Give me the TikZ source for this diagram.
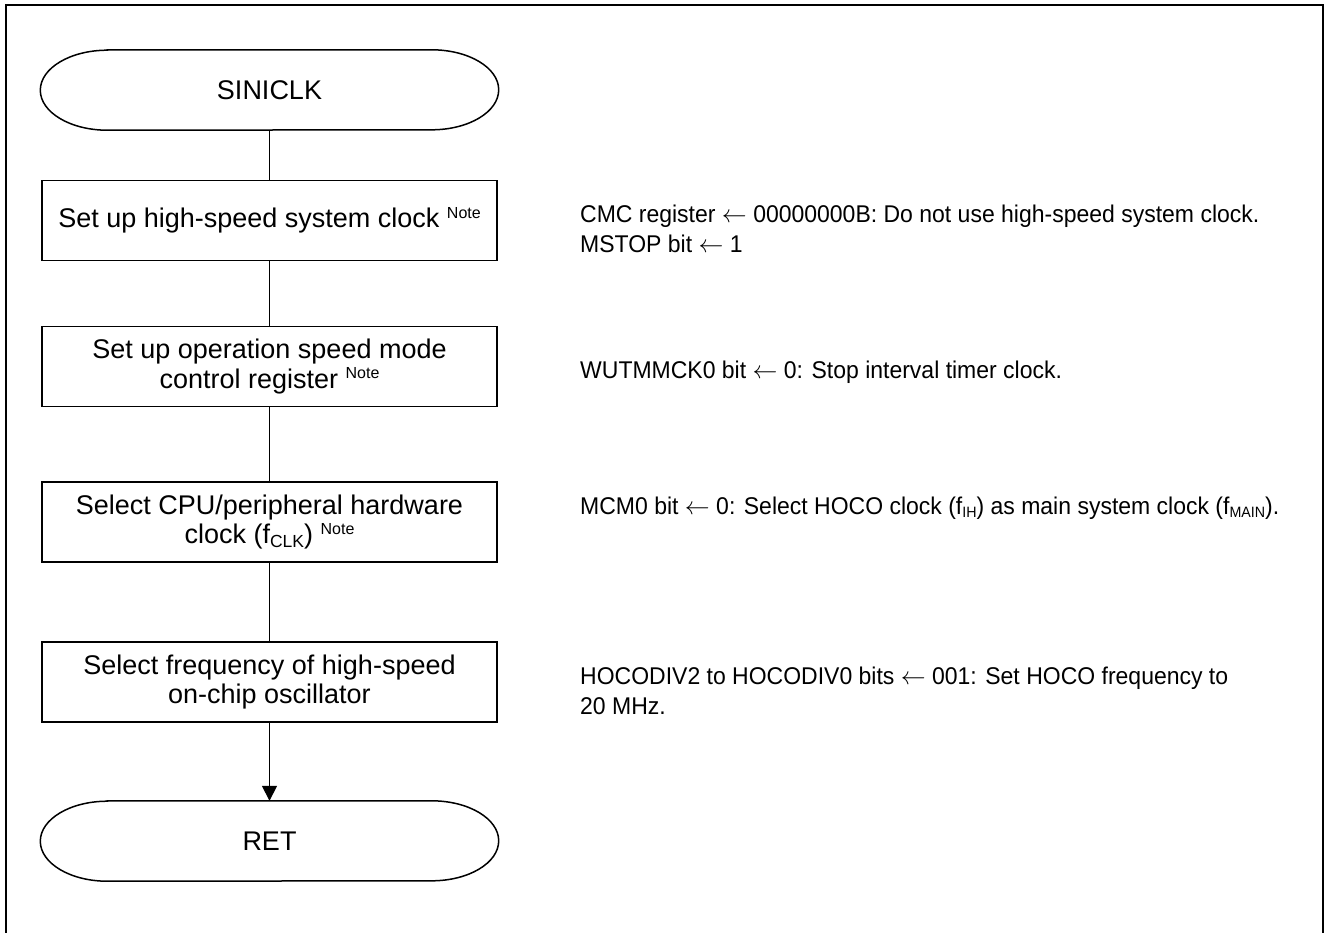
\documentclass[tikz,border=0pt]{standalone}
\usepackage{fontspec}
\setmainfont{Liberation Sans}
\newfontfamily\rfont[FakeStretch=0.95]{Liberation Sans}
\usetikzlibrary{arrows.meta}
\newcommand\boxfont{\fontsize{27}{29.5}\selectfont}
\newcommand\sidefont{\rfont\fontsize{24.2}{30}\selectfont}
\newcommand\NoteSup{\raisebox{9.5pt}{\fontsize{16}{16}\selectfont Note}}
\newcommand\SubTxt[1]{\raisebox{-4pt}{\fontsize{17.5}{18}\selectfont #1}}
\newcommand\SubSide[1]{\raisebox{-3.5pt}{\fontsize{15}{16}\selectfont #1}}
\begin{document}
\begin{tikzpicture}[x=1pt,y=-1pt,
  term/.style={minimum width=458pt,minimum height=80pt,inner sep=0pt,font=\boxfont},
  termline/.style={line width=1.5pt},
  proc/.style={draw,line width=1.8pt,minimum width=455pt,minimum height=80pt,inner sep=0pt,align=center,font=\boxfont},
  side/.style={anchor=west,align=left,inner sep=0pt,font=\sidefont},
  conn/.style={line width=1.5pt},
  frame/.style={line width=2.8pt}]
\useasboundingbox (0,0) rectangle (1327,932);
\draw[frame] (6,936) -- (6,5) -- (1323,5) -- (1323,936);

\node[term] (start) at (269.5,90) {SINICLK};
\node[proc] (b1) at (269.5,220.5) {Set up high-speed system clock \NoteSup};
\node[proc] (b2) at (269.5,366.5) {Set up operation speed mode\\control register \NoteSup};
\node[proc] (b3) at (269.5,522) {Select CPU/peripheral hardware\\clock (f\SubTxt{CLK}) \NoteSup};
\node[proc] (b4) at (269.5,682) {Select frequency of high-speed\\on-chip oscillator};
\node[term] (ret) at (269.5,841) {RET};

\foreach \n in {start,ret}
  \draw[termline] ([xshift=67pt]\n.north west) -- ([xshift=-67pt]\n.north east)
    arc[start angle=90,end angle=-90,x radius=67pt,y radius=40pt]
    -- ([xshift=67pt]\n.south west)
    arc[start angle=270,end angle=90,x radius=67pt,y radius=40pt] -- cycle;

\draw[conn] (start.south) -- (b1.north);
\draw[conn] (b1.south) -- (b2.north);
\draw[conn] (b2.south) -- (b3.north);
\draw[conn] (b3.south) -- (b4.north);
\draw[conn,-{Triangle[length=15pt,width=15pt]}] (b4.south) -- (ret.north);

\node[side] (n1) at (580,229) {CMC register $\leftarrow$ 00000000B: Do not use high-speed system clock.\\MSTOP bit $\leftarrow$ 1};
\node[side] (n2) at (580,372) {WUTMMCK0 bit $\leftarrow$ 0: Stop interval timer clock.};
\node[side] (n3) at (580,508) {MCM0 bit $\leftarrow$ 0: Select HOCO clock (f\SubSide{IH}) as main system clock (f\SubSide{MAIN}).};
\node[side] (n4) at (580,690.5) {HOCODIV2 to HOCODIV0 bits $\leftarrow$ 001: Set HOCO frequency to\\20 MHz.};
\end{tikzpicture}
\end{document}
